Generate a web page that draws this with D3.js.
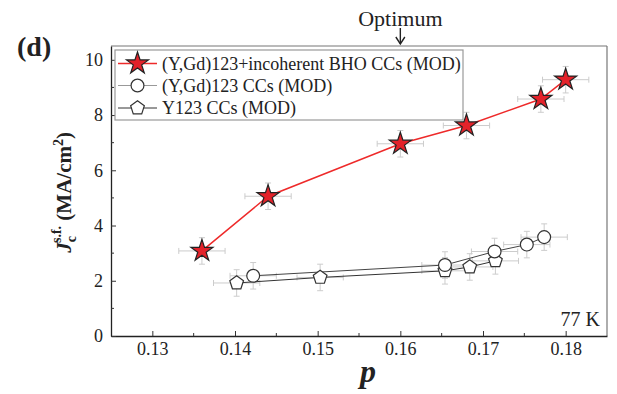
<!DOCTYPE html>
<html>
<head>
<meta charset="utf-8">
<script src="https://cdn.jsdelivr.net/npm/d3@7"></script>
<style>
  html, body { margin: 0; padding: 0; background: #fff; }
  svg { display: block; }
  text { font-family: "Liberation Serif", "Times New Roman", serif; fill: #222; }
</style>
</head>
<body>
<script>
// Critical current density vs hole concentration at 77 K
const bhoP  = [0.136, 0.144, 0.160, 0.168, 0.177, 0.180];
const bhoJc = [3.08, 5.06, 6.96, 7.62, 8.58, 9.28];

const ygdP  = [0.1422, 0.1654, 0.1714, 0.1753, 0.1774];
const ygdJc = [2.18, 2.57, 3.06, 3.31, 3.58];

const y123P  = [0.1402, 0.1503, 0.1654, 0.1684, 0.1715];
const y123Jc = [1.92, 2.12, 2.36, 2.50, 2.72];

const pErr  = 0.0028;
const jcErr = 0.48;

const xTicks = [0.13, 0.14, 0.15, 0.16, 0.17, 0.18];
const yTicks = [0, 2, 4, 6, 8, 10];
const legendLabels = ["(Y,Gd)123+incoherent BHO CCs (MOD)", "(Y,Gd)123 CCs (MOD)", "Y123 CCs (MOD)"];

const W = 617, H = 394;
const m = { left: 111, right: 10, top: 46, bottom: 58 };
const serif = "'Liberation Serif', 'Times New Roman', serif";

const svg = d3.select("body").append("svg").attr("width", W).attr("height", H);

const x = d3.scaleLinear().domain([0.125, 0.185]).range([m.left, W - m.right]);
const y = d3.scaleLinear().domain([0, 10.5]).range([H - m.bottom, m.top]);

// frame: top/right lighter
svg.append("line").attr("x1", x(0.125)).attr("x2", x(0.185)).attr("y1", y(10.5)).attr("y2", y(10.5))
  .attr("stroke", "#777").attr("stroke-width", 1.2);
svg.append("line").attr("x1", x(0.185)).attr("x2", x(0.185)).attr("y1", y(0)).attr("y2", y(10.5))
  .attr("stroke", "#777").attr("stroke-width", 1.2);

// bottom axis, ticks inward
const xMinor = [0.135, 0.145, 0.155, 0.165, 0.175];
const gx = svg.append("g").attr("transform", `translate(0,${y(0)})`);
gx.call(d3.axisBottom(x).tickValues(xTicks).tickFormat(d3.format(".2f")).tickSizeInner(-5).tickSizeOuter(0).tickPadding(6));
gx.selectAll(".minor").data(xMinor).enter().append("line").attr("class", "minor")
  .attr("x1", d => x(d)).attr("x2", d => x(d)).attr("y1", 0).attr("y2", -3).attr("stroke", "#333");
gx.select(".domain").attr("stroke", "#222").attr("stroke-width", 1.3);
gx.selectAll(".tick line").attr("stroke", "#333");
gx.selectAll(".tick text").attr("font-family", serif).style("font-size", "18px").attr("fill", "#222");

// left axis, ticks inward
const yMinor = [1, 3, 5, 7, 9];
const gy = svg.append("g").attr("transform", `translate(${x(0.125)},0)`);
gy.call(d3.axisLeft(y).tickValues(yTicks).tickFormat(d3.format("d")).tickSizeInner(-5).tickSizeOuter(0).tickPadding(8));
gy.selectAll(".minor").data(yMinor).enter().append("line").attr("class", "minor")
  .attr("y1", d => y(d)).attr("y2", d => y(d)).attr("x1", 0).attr("x2", 3).attr("stroke", "#333");
gy.select(".domain").attr("stroke", "#222").attr("stroke-width", 1.3);
gy.selectAll(".tick line").attr("stroke", "#333");
gy.selectAll(".tick text").attr("font-family", serif).style("font-size", "18px").attr("fill", "#222");

// error bars
function errorBars(ps, js) {
  const g = svg.append("g").attr("stroke", "#cccccc").attr("stroke-width", 1).attr("fill", "none");
  ps.forEach((p, i) => {
    const cx = x(p), cy = y(js[i]);
    const x0 = x(p - pErr), x1 = x(p + pErr), y0 = y(js[i] - jcErr), y1 = y(js[i] + jcErr);
    g.append("line").attr("x1", x0).attr("x2", x1).attr("y1", cy).attr("y2", cy);
    g.append("line").attr("x1", x0).attr("x2", x0).attr("y1", cy - 3).attr("y2", cy + 3);
    g.append("line").attr("x1", x1).attr("x2", x1).attr("y1", cy - 3).attr("y2", cy + 3);
    g.append("line").attr("x1", cx).attr("x2", cx).attr("y1", y0).attr("y2", y1);
    g.append("line").attr("x1", cx - 3).attr("x2", cx + 3).attr("y1", y0).attr("y2", y0);
    g.append("line").attr("x1", cx - 3).attr("x2", cx + 3).attr("y1", y1).attr("y2", y1);
  });
}
errorBars(y123P, y123Jc);
errorBars(ygdP, ygdJc);
errorBars(bhoP, bhoJc);

const line = d3.line().x(d => x(d[0])).y(d => y(d[1]));

// series lines
svg.append("path").datum(y123P.map((p, i) => [p, y123Jc[i]])).attr("d", line)
  .attr("fill", "none").attr("stroke", "#333").attr("stroke-width", 1);
svg.append("path").datum(ygdP.map((p, i) => [p, ygdJc[i]])).attr("d", line)
  .attr("fill", "none").attr("stroke", "#444").attr("stroke-width", 1);
svg.append("path").datum(bhoP.map((p, i) => [p, bhoJc[i]])).attr("d", line)
  .attr("fill", "none").attr("stroke", "#ee2a2a").attr("stroke-width", 1.5);

const starSym = d3.symbol().type(d3.symbolStar).size(150);
const circSym = d3.symbol().type(d3.symbolCircle).size(130);
function pentagonPath(r) {
  const pts = d3.range(5).map(k => {
    const a = -Math.PI / 2 + k * 2 * Math.PI / 5;
    return [r * Math.cos(a), r * Math.sin(a)];
  });
  return "M" + pts.map(p => p.join(",")).join("L") + "Z";
}

// markers
svg.append("g").selectAll("path").data(y123P).enter().append("path")
  .attr("d", pentagonPath(7.2))
  .attr("transform", (d, i) => `translate(${x(d)},${y(y123Jc[i])})`)
  .attr("fill", "#fff").attr("stroke", "#333").attr("stroke-width", 1.2);
svg.append("g").selectAll("path").data(ygdP).enter().append("path")
  .attr("d", circSym())
  .attr("transform", (d, i) => `translate(${x(d)},${y(ygdJc[i])})`)
  .attr("fill", "#fff").attr("stroke", "#333").attr("stroke-width", 1.2);
svg.append("g").selectAll("path").data(bhoP).enter().append("path")
  .attr("d", starSym())
  .attr("transform", (d, i) => `translate(${x(d)},${y(bhoJc[i])})`)
  .attr("fill", "#e3222a").attr("stroke", "#222").attr("stroke-width", 1.2);

// legend
const lg = svg.append("g");
lg.append("rect").attr("x", 115).attr("y", 50).attr("width", 348).attr("height", 70)
  .attr("fill", "#fff").attr("stroke", "#999").attr("stroke-width", 1.2);
const rows = [63.5, 85.5, 108];
const legendStroke = ["#ee2a2a", "#999", "#333"];
rows.forEach((ry, i) => {
  lg.append("line").attr("x1", 118).attr("x2", 157).attr("y1", ry).attr("y2", ry)
    .attr("stroke", legendStroke[i]).attr("stroke-width", i === 0 ? 1.5 : 1);
  const mk = lg.append("path").attr("transform", `translate(137.5,${ry})`);
  if (i === 0) mk.attr("d", starSym()).attr("fill", "#e3222a").attr("stroke", "#222").attr("stroke-width", 1.2);
  if (i === 1) mk.attr("d", circSym()).attr("fill", "#fff").attr("stroke", "#333").attr("stroke-width", 1.2);
  if (i === 2) mk.attr("d", pentagonPath(7.2)).attr("fill", "#fff").attr("stroke", "#333").attr("stroke-width", 1.2);
  lg.append("text").attr("x", 162).attr("y", ry + 6).style("font-size", "18px").text(legendLabels[i]);
});

// annotations
svg.append("text").attr("x", x(0.16)).attr("y", 26).attr("text-anchor", "middle")
  .style("font-size", "22px").text("Optimum");
svg.append("line").attr("x1", x(0.16)).attr("x2", x(0.16)).attr("y1", 28).attr("y2", 44)
  .attr("stroke", "#222").attr("stroke-width", 1.4);
svg.append("path").attr("d", `M${x(0.16) - 4.5},${37}L${x(0.16)},${44}L${x(0.16) + 4.5},${37}`)
  .attr("fill", "none").attr("stroke", "#222").attr("stroke-width", 1.4);

svg.append("text").attr("x", 600).attr("y", 326).attr("text-anchor", "end")
  .style("font-size", "20px").text("77 K");

svg.append("text").attr("x", 17).attr("y", 56).style("font-size", "28px").style("font-weight", "bold").text("(d)");

svg.append("text").attr("x", 368).attr("y", 382).attr("text-anchor", "middle")
  .style("font-size", "32px").style("font-weight", "bold").style("font-style", "italic").text("p");

// y-axis title
const yt = svg.append("text").attr("transform", `translate(71,${y(5.2)}) rotate(-90)`)
  .attr("text-anchor", "middle").style("font-size", "21px").style("font-weight", "bold");
yt.append("tspan").style("font-style", "italic").text("J");
yt.append("tspan").attr("dy", 5).style("font-size", "14px").text("c");
yt.append("tspan").attr("dy", -15).attr("dx", -7).style("font-size", "14px").text("s.f.");
yt.append("tspan").attr("dy", 10).text(" (MA/cm");
yt.append("tspan").attr("dy", -8).style("font-size", "14px").text("2");
yt.append("tspan").attr("dy", 8).text(")");
</script>
</body>
</html>
